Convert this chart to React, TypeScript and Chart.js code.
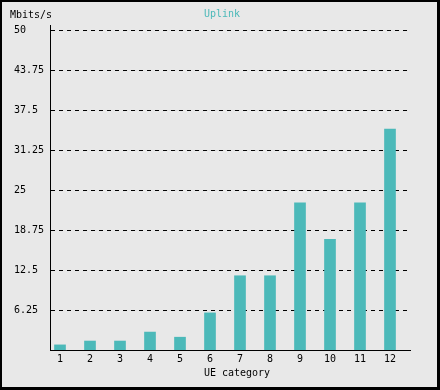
import React, { useEffect, useRef } from 'react';
import { Chart, registerables } from 'chart.js';

Chart.register(...registerables);

const categories = [1, 2, 3, 4, 5, 6, 7, 8, 9, 10, 11, 12];
const uplinkValues = [0.8, 1.4, 1.4, 2.8, 2.0, 5.8, 11.6, 11.6, 23, 17.3, 23, 34.5];
const yTickValues = [6.25, 12.5, 18.75, 25, 31.25, 37.5, 43.75, 50];
const yTickLabels = ['6.25', '12.5', '18.75', '25', '31.25', '37.5', '43.75', '50'];
const titleText = 'Uplink';
const yUnitText = 'Mbits/s';
const xTitleText = 'UE category';

const FONT = '"DejaVu Sans Mono", monospace';
const TEAL = '#4cb9b9';

const framePlugin = {
  id: 'framePlugin',
  beforeDraw(chart: any) {
    const ctx = chart.ctx;
    ctx.save();
    ctx.fillStyle = '#000000';
    ctx.fillRect(0, 0, chart.width, chart.height);
    ctx.fillStyle = '#e8e8e8';
    ctx.fillRect(2, 2, chart.width - 5, chart.height - 5);
    ctx.restore();
  },
  afterDraw(chart: any) {
    const ctx = chart.ctx;
    const area = chart.chartArea;
    ctx.save();
    // small extension of the y axis above the top gridline
    ctx.strokeStyle = '#000000';
    ctx.lineWidth = 1;
    ctx.beginPath();
    ctx.moveTo(area.left + 0.5, area.top - 5);
    ctx.lineTo(area.left + 0.5, area.top);
    ctx.moveTo(area.right, area.bottom + 0.5);
    ctx.lineTo(area.right + 1, area.bottom + 0.5);
    ctx.stroke();
    ctx.font = `10px ${FONT}`;
    ctx.textBaseline = 'middle';
    ctx.fillStyle = '#000000';
    ctx.textAlign = 'left';
    ctx.fillText(yUnitText, 10, 15);
    ctx.fillStyle = TEAL;
    ctx.textAlign = 'center';
    ctx.fillText(titleText, 222, 14.5);
    ctx.fillStyle = '#000000';
    ctx.fillText(xTitleText, (area.left + area.right) / 2 + 7, 373);
    ctx.restore();
  },
};

export default function App() {
  const canvasRef = useRef<HTMLCanvasElement | null>(null);

  useEffect(() => {
    document.body.style.margin = '0';
    const canvas = canvasRef.current;
    if (!canvas) return;
    const chart = new Chart(canvas, {
      type: 'bar',
      data: {
        datasets: [
          {
            label: titleText,
            data: categories.map((c, i) => ({ x: c, y: uplinkValues[i] })),
            backgroundColor: TEAL,
            borderWidth: 0,
            barThickness: 11,
          },
        ],
      },
      options: {
        responsive: false,
        animation: false,
        devicePixelRatio: 1,
        layout: { padding: { left: 14, top: 30, right: 30, bottom: 0 } },
        plugins: {
          legend: { display: false },
          tooltip: { enabled: false },
          title: { display: false },
        },
        scales: {
          x: {
            type: 'linear',
            min: categories[0] - 1 / 3,
            max: categories[categories.length - 1] + 2 / 3,
            offset: false,
            afterBuildTicks: (scale: any) => {
              scale.ticks = categories.map((v) => ({ value: v }));
            },
            grid: { display: false, drawTicks: false },
            border: { display: true, color: '#000000', width: 1 },
            ticks: {
              color: '#000000',
              font: { family: FONT, size: 10 },
              padding: 3,
              maxRotation: 0,
              autoSkip: false,
              callback: (value: any) => String(value),
            },
            afterFit: (scale: any) => {
              scale.height = 40;
            },
          },
          y: {
            type: 'linear',
            min: 0,
            max: 50,
            afterBuildTicks: (scale: any) => {
              scale.ticks = yTickValues.map((v) => ({ value: v }));
            },
            grid: {
              display: true,
              drawTicks: false,
              color: '#000000',
              lineWidth: 1,
            },
            border: { display: true, color: '#000000', width: 1, dash: [4, 4] },
            ticks: {
              color: '#000000',
              font: { family: FONT, size: 10 },
              crossAlign: 'far',
              padding: 0,
              callback: (value: any) => {
                const i = yTickValues.indexOf(Number(value));
                return i >= 0 ? yTickLabels[i] : '';
              },
            },
            afterFit: (scale: any) => {
              scale.width = 36;
            },
          },
        },
      },
      plugins: [framePlugin],
    });
    return () => chart.destroy();
  }, []);

  return (
    <div style={{ position: 'absolute', left: 0, top: 0, width: 440, height: 390 }}>
      <canvas ref={canvasRef} width={440} height={390} />
    </div>
  );
}
